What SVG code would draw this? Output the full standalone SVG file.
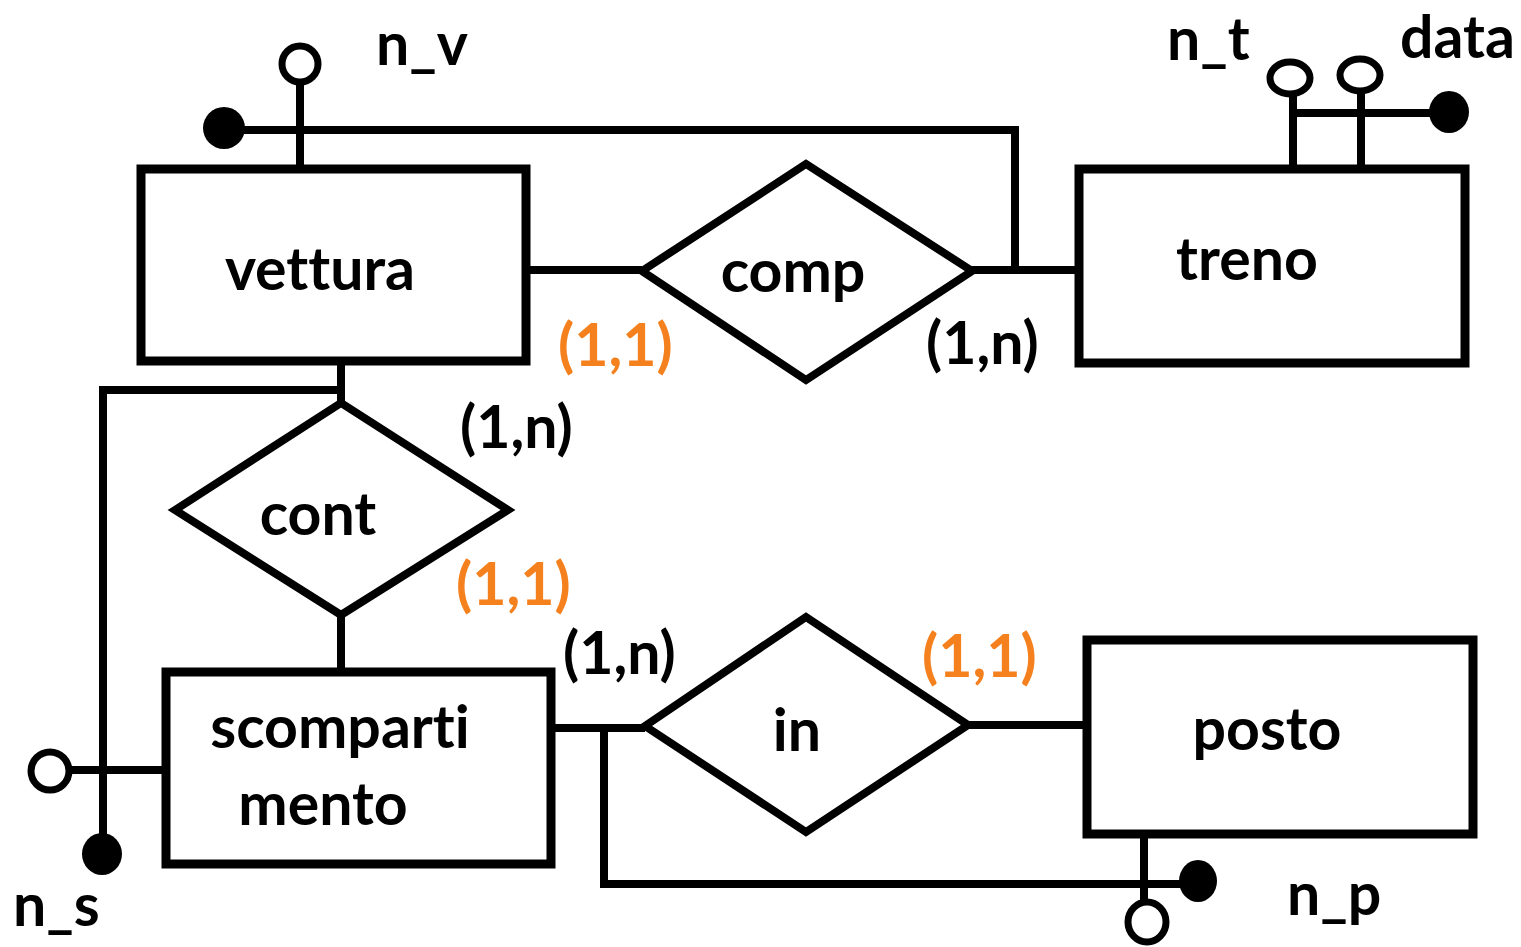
<svg xmlns="http://www.w3.org/2000/svg" width="1521" height="947" viewBox="0 0 1521 947">
<style>
.ent{fill:#fff;stroke:#000;stroke-width:9}
.rel{fill:#fff;stroke:#000;stroke-width:8;stroke-linejoin:miter}
.ln{fill:none;stroke:#000;stroke-width:8}
.open{fill:#fff;stroke:#000;stroke-width:7}
.fill{fill:#000}
text{font-family:Lato,"Open Sans","Liberation Sans",sans-serif;font-weight:700;font-size:59px;fill:#000;font-variant-ligatures:none}
.lbl{text-anchor:middle}
.or{fill:#F5801E}
</style>
<rect width="1521" height="947" fill="#fff"/>
<g id="connectors">
<line class="ln" x1="528" y1="270" x2="642" y2="270"/>
<line class="ln" x1="972" y1="270" x2="1075" y2="270"/>
<line class="ln" x1="341" y1="363" x2="341" y2="403"/>
<line class="ln" x1="341" y1="615" x2="341" y2="668"/>
<line class="ln" x1="555" y1="728" x2="645" y2="728"/>
<line class="ln" x1="968" y1="725" x2="1083" y2="725"/>
</g>
<g id="attr-n_v">
<line class="ln" x1="300" y1="82" x2="300" y2="168"/>
<circle class="open" cx="300" cy="64" r="18"/>
<text x="376" y="65">n_v</text>
</g>
<g id="id-vettura">
<polyline class="ln" points="224,130 1015,130 1015,270"/>
<circle class="fill" cx="224" cy="128" r="21"/>
</g>
<g id="vettura">
<rect class="ent" x="141" y="169" width="385" height="192"/>
<text class="lbl" x="320" y="290">vettura</text>
</g>
<g id="comp">
<polygon class="rel" points="642,271 806,164 972,271 806,380"/>
<text class="lbl" x="793" y="292">comp</text>
</g>
<text class="or" x="558" y="366">(1,1)</text>
<text x="926" y="364">(1,n)</text>
<g id="treno">
<rect class="ent" x="1079" y="169" width="386" height="194"/>
<text class="lbl" x="1247" y="280">treno</text>
</g>
<g id="attr-treno">
<line class="ln" x1="1293" y1="93" x2="1293" y2="168"/>
<line class="ln" x1="1361" y1="90" x2="1361" y2="168"/>
<line class="ln" x1="1293" y1="113" x2="1448" y2="113"/>
<ellipse class="open" cx="1290" cy="78" rx="20" ry="16"/>
<ellipse class="open" cx="1360" cy="75" rx="20" ry="16"/>
<ellipse class="fill" cx="1449" cy="112" rx="20" ry="21"/>
<text x="1167" y="60">n_t</text>
<text x="1400" y="58">data</text>
</g>
<g id="cont">
<polygon class="rel" points="175,510 341,403 508,510 341,615"/>
<text class="lbl" x="318" y="535">cont</text>
</g>
<text x="460" y="448">(1,n)</text>
<text class="or" x="456" y="605">(1,1)</text>
<g id="id-scompartimento">
<polyline class="ln" points="341,390 103,390 103,855"/>
<ellipse class="fill" cx="102" cy="854" rx="20" ry="21"/>
<text x="13" y="926">n_s</text>
</g>
<g id="attr-n_s">
<line class="ln" x1="68" y1="770" x2="164" y2="770"/>
<circle class="open" cx="50" cy="771" r="19"/>
</g>
<g id="scompartimento">
<rect class="ent" x="166" y="672" width="385" height="192"/>
<text class="lbl" x="340" y="748">scomparti</text>
<text class="lbl" x="323" y="825">mento</text>
</g>
<g id="in">
<polygon class="rel" points="645,726 806,617 968,725 806,832"/>
<text class="lbl" x="797" y="751">in</text>
</g>
<text x="563" y="674">(1,n)</text>
<text class="or" x="922" y="677">(1,1)</text>
<g id="id-posto">
<polyline class="ln" points="604,730 604,884 1197,884"/>
<ellipse class="fill" cx="1198" cy="881" rx="19" ry="21"/>
<text x="1287" y="915">n_p</text>
</g>
<g id="attr-n_p">
<line class="ln" x1="1144" y1="838" x2="1144" y2="904"/>
<ellipse class="open" cx="1147" cy="922" rx="19" ry="20"/>
</g>
<g id="posto">
<rect class="ent" x="1087" y="640" width="386" height="194"/>
<text class="lbl" x="1267" y="750">posto</text>
</g>
</svg>
